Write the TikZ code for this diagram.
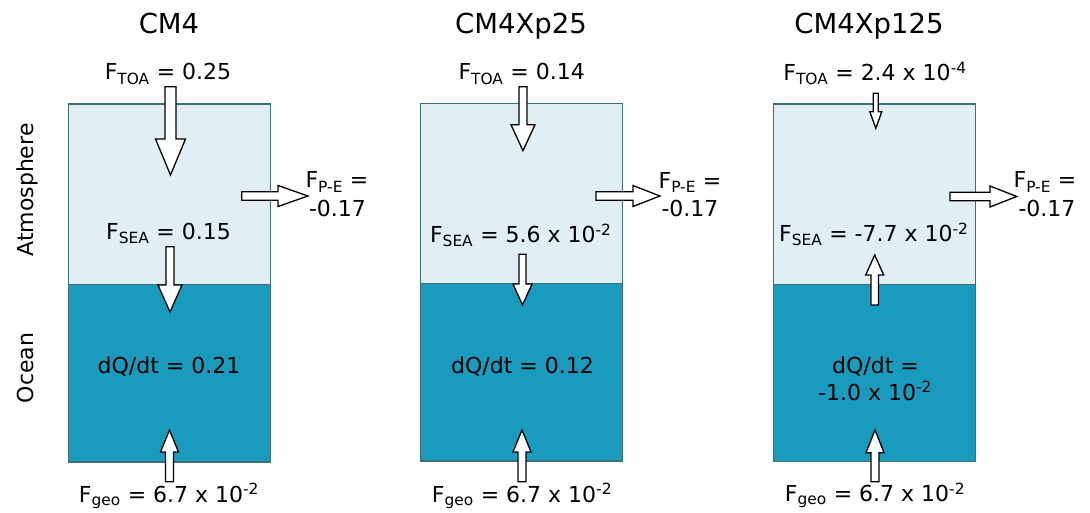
\documentclass[tikz,border=0pt]{standalone}
\usepackage{fontspec}
\setmainfont{DejaVu Sans}
\definecolor{airfill}{RGB}{225,238,244}
\definecolor{seafill}{RGB}{26,155,190}
\definecolor{boxedge}{RGB}{62,112,120}

% block arrows: x/y centre line, start, tip, shaft half-width, head half-width, head length
\newcommand\fluxdown[6]{\draw[flux] ({#1-#4},{#2}) -- ({#1+#4},{#2}) -- ({#1+#4},{#3-#6}) -- ({#1+#5},{#3-#6}) -- ({#1},{#3}) -- ({#1-#5},{#3-#6}) -- ({#1-#4},{#3-#6}) -- cycle;}
\newcommand\fluxup[6]{\draw[flux] ({#1-#4},{#2}) -- ({#1+#4},{#2}) -- ({#1+#4},{#3+#6}) -- ({#1+#5},{#3+#6}) -- ({#1},{#3}) -- ({#1-#5},{#3+#6}) -- ({#1-#4},{#3+#6}) -- cycle;}
\newcommand\fluxright[6]{\draw[flux] ({#2},{#1-#4}) -- ({#2},{#1+#4}) -- ({#3-#6},{#1+#4}) -- ({#3-#6},{#1+#5}) -- ({#3},{#1}) -- ({#3-#6},{#1-#5}) -- ({#3-#6},{#1-#4}) -- cycle;}

\begin{document}
\begin{tikzpicture}[x=1pt,y=-1pt,
  air/.style={draw=boxedge, fill=airfill, line width=1.1pt},
  sea/.style={draw=boxedge, fill=seafill, line width=1.1pt},
  flux/.style={draw=black, fill=white, line width=1.3pt, line join=miter},
  lbl/.style={font=\fontsize{22}{26}\selectfont, anchor=base, inner sep=0pt},
  ttl/.style={font=\fontsize{27.5}{32}\selectfont, anchor=base, inner sep=0pt},
  side/.style={lbl, rotate=90}]
\useasboundingbox (0,0) rectangle (1090,513);

% reservoirs
\draw[air] (68.5,104) rectangle (270.5,284.5);
\draw[sea] (68.5,284.5) rectangle (270.5,462);
\draw[air] (420.5,103.5) rectangle (622.5,283.5);
\draw[sea] (420.5,283.5) rectangle (622.5,461);
\draw[air] (773.5,104) rectangle (975.5,284.5);
\draw[sea] (773.5,284.5) rectangle (975.5,461.5);

% fluxes, CM4
\fluxdown{170.5}{86.7}{175}{5.5}{15}{36}
\fluxright{196}{241.7}{308}{4.2}{10.5}{30}
\fluxdown{170}{246.7}{312}{4}{12}{27}
\fluxup{169.5}{481.7}{430}{4}{9}{22}

% fluxes, CM4Xp25
\fluxdown{523}{86.7}{150.7}{4}{12}{26}
\fluxright{196}{596}{660}{4.2}{10.5}{27}
\fluxdown{522.5}{254.3}{305}{3.5}{9.5}{21}
\fluxup{522}{481.7}{430}{4}{9}{22}

% fluxes, CM4Xp125
\fluxdown{875.8}{93.3}{128.3}{2.5}{6}{16.6}
\fluxright{196.5}{950}{1016.7}{4.2}{10.5}{26.7}
\fluxup{874.7}{305}{255}{3.7}{9}{20}
\fluxup{875}{481.7}{430}{4}{9}{22.7}

% row labels
\node[side] (atm) at (34,190) {Atmosphere};
\node[side] (ocn) at (34,368) {Ocean};

% CM4
\node[ttl] (t1) at (169,33.3) {CM4};
\node[lbl] (toa1) at (168,80) {F\textsubscript{TOA} = 0.25};
\node[lbl] (pe1a) at (337,188) {F\textsubscript{P-E} =};
\node[lbl] (pe1b) at (337.5,216.7) {-0.17};
\node[lbl] (sea1) at (168.5,239.5) {F\textsubscript{SEA} = 0.15};
\node[lbl] (dq1) at (169,373.3) {dQ/dt = 0.21};
\node[lbl] (geo1) at (169,502.5) {F\textsubscript{geo} = 6.7 x 10\textsuperscript{-2}};

% CM4Xp25
\node[ttl] (t2) at (521,33.3) {CM4Xp25};
\node[lbl] (toa2) at (521.7,80) {F\textsubscript{TOA} = 0.14};
\node[lbl] (pe2a) at (690,188.3) {F\textsubscript{P-E} =};
\node[lbl] (pe2b) at (690,216.7) {-0.17};
\node[lbl] (sea2) at (520.8,242.7) {F\textsubscript{SEA} = 5.6 x 10\textsuperscript{-2}};
\node[lbl] (dq2) at (522.5,373) {dQ/dt = 0.12};
\node[lbl] (geo2) at (522,502) {F\textsubscript{geo} = 6.7 x 10\textsuperscript{-2}};

% CM4Xp125
\node[ttl] (t3) at (869,33.3) {CM4Xp125};
\node[lbl] (toa3) at (875,80.7) {F\textsubscript{TOA} = 2.4 x 10\textsuperscript{-4}};
\node[lbl] (pe3a) at (1045,188) {F\textsubscript{P-E} =};
\node[lbl] (pe3b) at (1047,216.7) {-0.17};
\node[lbl] (sea3) at (873.8,241.7) {F\textsubscript{SEA} = -7.7 x 10\textsuperscript{-2}};
\node[lbl] (dq3a) at (875.5,373.3) {dQ/dt =};
\node[lbl] (dq3b) at (875,400) {-1.0 x 10\textsuperscript{-2}};
\node[lbl] (geo3) at (875,501.7) {F\textsubscript{geo} = 6.7 x 10\textsuperscript{-2}};
\end{tikzpicture}
\end{document}
